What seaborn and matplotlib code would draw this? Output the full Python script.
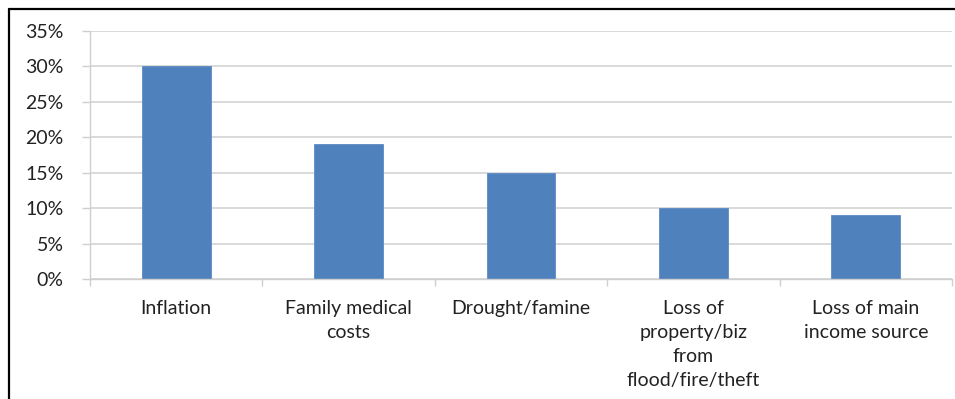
import matplotlib
matplotlib.use("Agg")
import matplotlib.pyplot as plt
from matplotlib.lines import Line2D
from matplotlib.ticker import PercentFormatter, MultipleLocator, FixedLocator
import seaborn as sns
import pandas as pd

categories = [
    "Inflation",
    "Family medical\ncosts",
    "Drought/famine",
    "Loss of\nproperty/biz\nfrom\nflood/fire/theft",
    "Loss of main\nincome source",
]
shares = [30, 19, 15, 10, 9]

df = pd.DataFrame({"category": categories, "share": shares})

sns.set_theme(style="white")
plt.rcParams["font.family"] = ["Lato", "DejaVu Sans"]

fig = plt.figure(figsize=(9.55, 3.99), dpi=100)
ax = fig.add_axes([90 / 955, 120 / 399, 862 / 955, 248 / 399])

sns.barplot(data=df, x="category", y="share", color="#4f81bd",
            width=0.4, saturation=1, ax=ax, edgecolor="#5b8bc6", linewidth=0.6)

ax.set_ylim(0, 35)
ax.set_xlim(-0.5, len(categories) - 0.5)
ax.yaxis.set_major_locator(MultipleLocator(5))
ax.yaxis.set_major_formatter(PercentFormatter(decimals=0))
ax.grid(axis="y", color="#d3d3d3", linewidth=1.2)
ax.set_axisbelow(True)
ax.set_xlabel("")
ax.set_ylabel("")

for side in ["top", "right"]:
    ax.spines[side].set_visible(False)
for side in ["left", "bottom"]:
    ax.spines[side].set_color("#cfcfcf")
    ax.spines[side].set_linewidth(1.0)

ax.tick_params(axis="y", left=True, length=6, width=1.0, color="#cfcfcf",
               pad=13, labelsize=14, labelcolor="#222222")
ax.set_xticks(range(len(categories)))
ax.set_xticklabels(categories, linespacing=1.5)
ax.tick_params(axis="x", bottom=False, pad=9, labelsize=14, labelcolor="#222222")
ax.xaxis.set_minor_locator(FixedLocator([i - 0.5 for i in range(len(categories) + 1)]))
ax.tick_params(axis="x", which="minor", bottom=True, length=5, width=1.0,
               color="#cfcfcf")

# outer frame lines
fig.add_artist(Line2D([9 / 955, 1], [1 - 9 / 399, 1 - 9 / 399],
                      transform=fig.transFigure, color="black", linewidth=1.6))
fig.add_artist(Line2D([9 / 955, 9 / 955], [0, 1 - 9 / 399],
                      transform=fig.transFigure, color="black", linewidth=1.6))

fig.savefig("out.png", dpi=100)
